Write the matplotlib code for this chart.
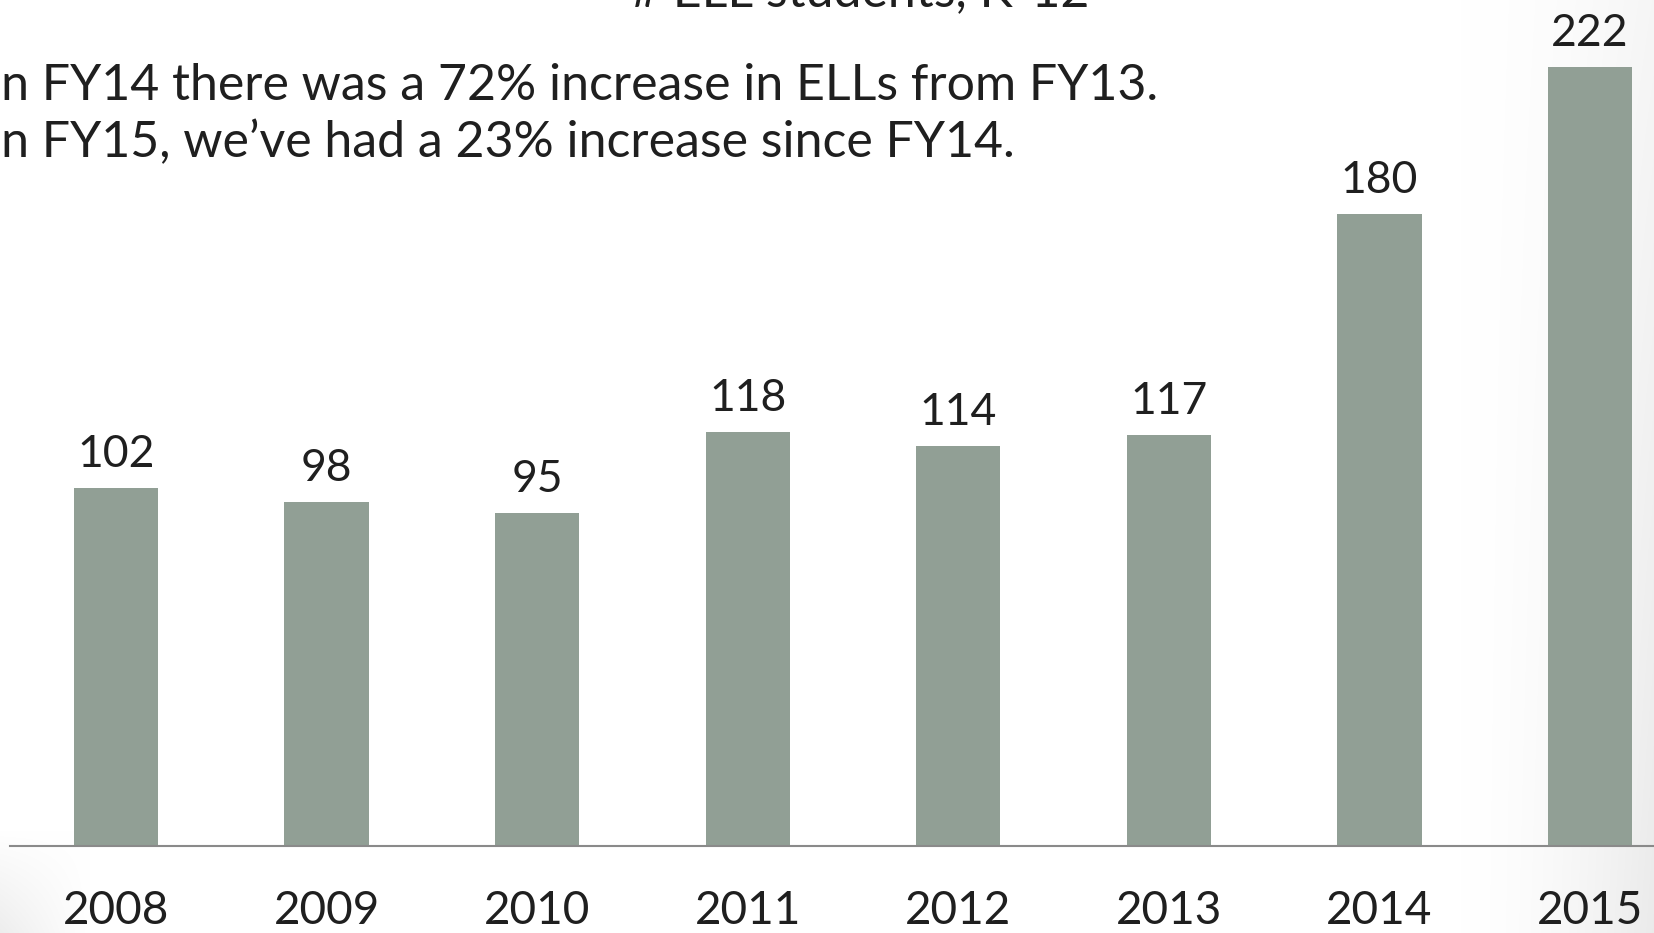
import numpy as np
import matplotlib.pyplot as plt

plt.rcParams['font.family'] = ['Lato', 'DejaVu Sans']

years = ['2008', '2009', '2010', '2011', '2012', '2013', '2014', '2015']
ell_students = [102, 98, 95, 118, 114, 117, 180, 222]

title = '# ELL students, K-12'
note_lines = ['In FY14 there was a 72% increase in ELLs from FY13.',
              'In FY15, we\u2019ve had a 23% increase since FY14.']

BAR_COLOR = '#919f95'
TEXT_COLOR = '#1f1f1f'

W, H = 1654, 933
fig = plt.figure(figsize=(W / 100, H / 100), dpi=100)
fig.patch.set_facecolor('white')

# faint slide shading: right edge and lower-left corner
xx, yy = np.meshgrid(np.arange(W), np.arange(H))
right = np.clip((xx - 1460) / (W - 1460), 0, 1) ** 1.6 * (0.45 + 0.55 * yy / H)
corner = np.clip(1 - xx / 90, 0, 1) * np.clip((yy - 830) / (H - 830), 0, 1)
shade = 1 - 0.08 * right - 0.07 * corner
bg = np.dstack([shade, shade, shade])
fig.figimage(bg, xo=0, yo=0, origin='upper', zorder=-1)

# axes placed so the baseline sits where the slide had it
ax = fig.add_axes([10 / W, 87 / H, 1 - 10 / W, 846 / H])
x = list(range(len(years)))
bars = ax.bar(x, ell_students, width=0.4, color=BAR_COLOR, zorder=2)

ax.set_xlim(-0.503, 7.304)
ax.set_ylim(0, 241)

for b, v in zip(bars, ell_students):
    ax.annotate(str(v), (b.get_x() + b.get_width() / 2, v),
                xytext=(0, 15), textcoords='offset points',
                ha='center', va='baseline', fontsize=32,
                color=TEXT_COLOR, annotation_clip=False)

ax.set_xticks(x)
ax.set_xticklabels(years, fontsize=33, color=TEXT_COLOR)
ax.tick_params(axis='x', length=0, pad=32)
ax.set_yticks([])

for side in ['top', 'right', 'left']:
    ax.spines[side].set_visible(False)
ax.spines['bottom'].set_color('#8a8a8a')
ax.spines['bottom'].set_linewidth(1.5)
ax.patch.set_alpha(0)

# title runs off the top of the slide, only its lower edge shows
fig.text(860 / W, 1 - 6 / H, title, ha='center', va='baseline',
         fontsize=36, color=TEXT_COLOR)

fig.text(-13 / W, 1 - 100 / H, note_lines[0], ha='left', va='baseline',
         fontsize=36, color=TEXT_COLOR)
fig.text(-13 / W, 1 - 157 / H, note_lines[1], ha='left', va='baseline',
         fontsize=36, color=TEXT_COLOR)

fig.savefig('out.png', dpi=100)
